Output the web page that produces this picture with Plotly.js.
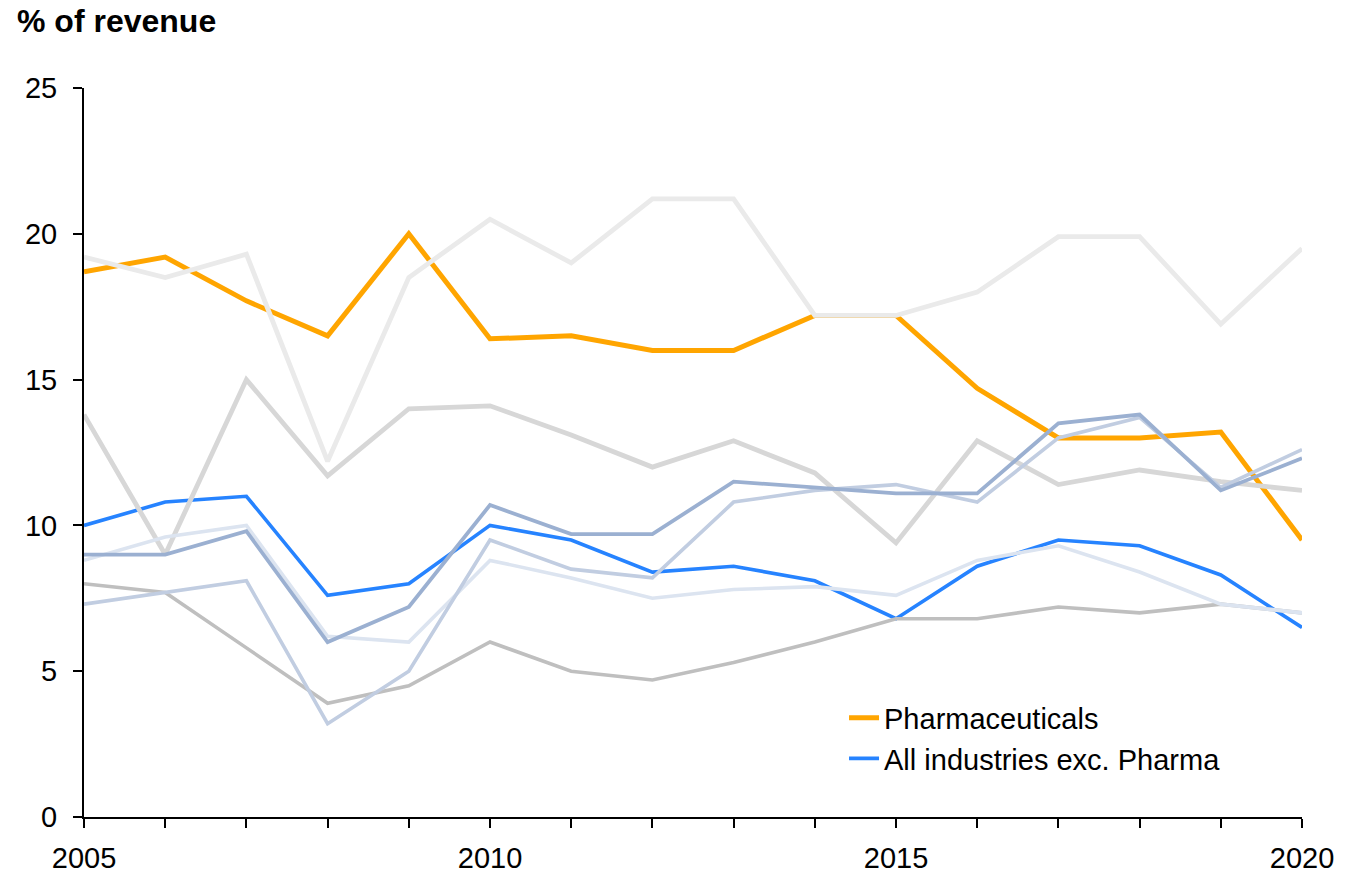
<!DOCTYPE html>
<html>
<head>
<meta charset="utf-8">
<script src="https://cdn.plot.ly/plotly-3.0.1.min.js"></script>
<style>
  html, body { margin: 0; padding: 0; background: #fff; }
  #chart { width: 1366px; height: 875px; }
</style>
</head>
<body>
<div id="chart"></div>
<script>
// Years on the x axis
const years = [2005, 2006, 2007, 2008, 2009, 2010, 2011, 2012, 2013, 2014, 2015, 2016, 2017, 2018, 2019, 2020];

// Highlighted series (% of revenue)
const pharmaceuticals = [18.7, 19.2, 17.7, 16.5, 20.0, 16.4, 16.5, 16.0, 16.0, 17.2, 17.2, 14.7, 13.0, 13.0, 13.2, 9.5];
const allIndustriesExPharma = [10.0, 10.8, 11.0, 7.6, 8.0, 10.0, 9.5, 8.4, 8.6, 8.1, 6.8, 8.6, 9.5, 9.3, 8.3, 6.5];

// Context series drawn in muted tones
const contextA = [19.2, 18.5, 19.3, 12.2, 18.5, 20.5, 19.0, 21.2, 21.2, 17.2, 17.2, 18.0, 19.9, 19.9, 16.9, 19.5];
const contextB = [13.8, 9.0, 15.0, 11.7, 14.0, 14.1, 13.1, 12.0, 12.9, 11.8, 9.4, 12.9, 11.4, 11.9, 11.5, 11.2];
const contextC = [8.0, 7.7, 5.8, 3.9, 4.5, 6.0, 5.0, 4.7, 5.3, 6.0, 6.8, 6.8, 7.2, 7.0, 7.3, 7.0];
const contextD = [9.0, 9.0, 9.8, 6.0, 7.2, 10.7, 9.7, 9.7, 11.5, 11.3, 11.1, 11.1, 13.5, 13.8, 11.2, 12.3];
const contextE = [7.3, 7.7, 8.1, 3.2, 5.0, 9.5, 8.5, 8.2, 10.8, 11.2, 11.4, 10.8, 13.0, 13.7, 11.3, 12.6];
const contextF = [8.8, 9.6, 10.0, 6.2, 6.0, 8.8, 8.2, 7.5, 7.8, 7.9, 7.6, 8.8, 9.3, 8.4, 7.3, 7.0];

const yTickVals = [0, 5, 10, 15, 20, 25];
const xTickVals = [2005, 2010, 2015, 2020];

const FONT = 'Liberation Sans, Arial, sans-serif';

function line(y, color, width, name, showlegend) {
  return {
    x: years, y: y, type: 'scatter', mode: 'lines', name: name || '',
    showlegend: !!showlegend, hoverinfo: 'skip',
    line: { color: color, width: width, shape: 'linear' }
  };
}

const traces = [
  line(pharmaceuticals, '#FFA500', 5, 'Pharmaceuticals', true),
  line(allIndustriesExPharma, '#2683FF', 3.6, 'All industries exc. Pharma', true),
  line(contextA, '#EAEAEA', 4.8),
  line(contextB, '#D7D7D7', 4.8),
  line(contextC, '#BFBFBF', 3.6),
  line(contextF, '#DCE4F0', 3.6),
  line(contextE, '#C1CDE1', 3.6),
  line(contextD, '#9BB0D1', 3.8)
];

const layout = {
  width: 1366, height: 875,
  paper_bgcolor: '#ffffff', plot_bgcolor: '#ffffff',
  margin: { l: 84, r: 64, t: 88, b: 58, pad: 0 },
  font: { family: FONT, color: '#000000', size: 30 },
  title: {
    text: '<b>% of revenue</b>',
    font: { family: FONT, size: 32, color: '#000000' },
    xref: 'container', yref: 'container',
    x: 17 / 1366, xanchor: 'left',
    y: 1 - 21 / 875, yanchor: 'middle'
  },
  xaxis: {
    range: [2005, 2020],
    tickvals: xTickVals, ticktext: xTickVals.map(String),
    ticks: 'outside', ticklen: 9, tickwidth: 2, tickcolor: '#000',
    minor: { dtick: 1, tick0: 2005, ticks: 'outside', ticklen: 9, tickwidth: 2, tickcolor: '#000' },
    showline: true, linecolor: '#000', linewidth: 2,
    showgrid: false, zeroline: false,
    tickfont: { family: FONT, size: 29, color: '#000' },
    ticklabelstandoff: 5,
    fixedrange: true
  },
  yaxis: {
    range: [0, 25],
    tickvals: yTickVals, ticktext: yTickVals.map(String),
    ticks: 'outside', ticklen: 9, tickwidth: 2, tickcolor: '#000',
    showline: true, linecolor: '#000', linewidth: 2,
    showgrid: false, zeroline: false,
    tickfont: { family: FONT, size: 29, color: '#000' },
    ticklabelstandoff: 10,
    fixedrange: true
  },
  legend: {
    x: 0.624, xanchor: 'left', y: 0.171, yanchor: 'top',
    bgcolor: 'rgba(0,0,0,0)', borderwidth: 0,
    font: { family: FONT, size: 29, color: '#000' },
    traceorder: 'normal'
  },
  showlegend: true,
  hovermode: false
};

Plotly.newPlot('chart', traces, layout, { staticPlot: true, displayModeBar: false });
</script>
</body>
</html>
